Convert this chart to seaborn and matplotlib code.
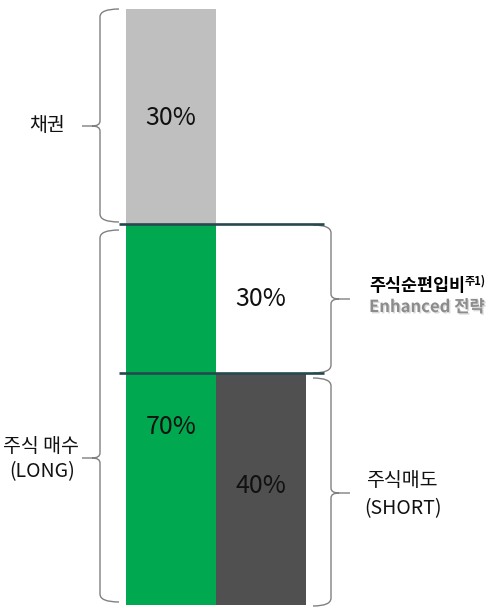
import matplotlib
matplotlib.use('Agg')
import matplotlib.pyplot as plt
import matplotlib.patheffects as pe
from matplotlib.path import Path
from matplotlib.patches import PathPatch
import seaborn as sns
import pandas as pd

# two stacked columns: left = bond + long, right = net exposure + short
bars = ['left', 'right']
lower_h = [64, 39]          # drawn heights (left column total = 100)
upper_h = [36, 25]
lower_pct = ['70%', '40%']
upper_pct = ['30%', '30%']
lower_colors = ['#00A84F', '#505050']
upper_colors = ['#BFBFBF', '#FFFFFF']

LINE = '#25494F'
BRACE = '#808080'
KR = ['Liberation Sans Narrow', 'Noto Sans CJK KR', 'DejaVu Sans']

sns.set_style('white')
plt.rcParams['font.family'] = KR

fig = plt.figure(figsize=(4.89, 6.08), dpi=100)
ax = fig.add_axes([0, 0, 1, 1])

totals = [l + u for l, u in zip(lower_h, upper_h)]
df_top = pd.DataFrame({'bar': bars, 'h': totals})
df_low = pd.DataFrame({'bar': bars, 'h': lower_h})
sns.barplot(data=df_top, x='bar', y='h', hue='bar', palette=upper_colors,
            legend=False, width=1.0, linewidth=0, saturation=1, ax=ax)
sns.barplot(data=df_low, x='bar', y='h', hue='bar', palette=lower_colors,
            legend=False, width=1.0, linewidth=0, saturation=1, ax=ax)

# pixel helpers (origin top-left of the 489x608 image)
PX_X = 90.0
PX_Y = 5.96
X0 = -0.5 - 126 / PX_X


def xp(px):
    return X0 + px / PX_X


def yp(py):
    return (605 - py) / PX_Y


ax.set_xlim(X0, X0 + 489 / PX_X)
ax.set_ylim(yp(608), yp(0))
ax.axis('off')

# dark separator lines
for y in [lower_h[0], lower_h[1]]:
    ax.plot([xp(119), xp(324)], [y, y], color=LINE, lw=1.9,
            solid_capstyle='butt', zorder=5)


def brace(x_spine, x_end, x_tip, y_top, y_bot, y_tip):
    s = 1 if x_tip > x_spine else -1
    r = 8
    k = 5
    mid = x_spine + s * 8
    pts = [
        ((x_end, y_top), Path.MOVETO),
        ((x_spine, y_top), Path.CURVE3),
        ((x_spine, y_top + r), Path.CURVE3),
        ((x_spine, y_tip - k), Path.LINETO),
        ((x_spine, y_tip), Path.CURVE3),
        ((mid, y_tip), Path.CURVE3),
        ((x_tip, y_tip), Path.LINETO),
        ((mid, y_tip), Path.MOVETO),
        ((x_spine, y_tip), Path.CURVE3),
        ((x_spine, y_tip + k), Path.CURVE3),
        ((x_spine, y_bot - r), Path.LINETO),
        ((x_spine, y_bot), Path.CURVE3),
        ((x_end, y_bot), Path.CURVE3),
    ]
    verts = [(xp(p[0]), yp(p[1])) for p, c in pts]
    codes = [c for p, c in pts]
    ax.add_patch(PathPatch(Path(verts, codes), fill=False, edgecolor=BRACE,
                           lw=1.0, zorder=4))


brace(100, 119, 82, 9, 222, 126)
brace(100, 119, 82, 230, 602, 458)
brace(331, 313, 350, 225, 373, 299)
brace(331, 313, 350, 378, 606, 493)

# percentage labels
ax.text(0, yp(118), upper_pct[0], ha='center', va='center', fontsize=18, color='#111111')
ax.text(0, yp(427), lower_pct[0], ha='center', va='center', fontsize=18, color='#111111')
ax.text(1, yp(299), upper_pct[1], ha='center', va='center', fontsize=18, color='#111111')
ax.text(1, yp(486), lower_pct[1], ha='center', va='center', fontsize=18, color='#111111')

# side labels
ax.text(xp(47), yp(126), '채권', ha='center', va='center', fontsize=14, color='#111111')
ax.text(xp(41), yp(446), '주식 매수', ha='center', va='center', fontsize=14, color='#111111')
ax.text(xp(42), yp(472), '(LONG)', ha='center', va='center', fontsize=14, color='#111111')
ax.text(xp(402), yp(481), '주식매도', ha='center', va='center', fontsize=14, color='#111111')
ax.text(xp(403), yp(509), '(SHORT)', ha='center', va='center', fontsize=14, color='#111111')

t1 = ax.text(xp(369), yp(286), '주식순편입비', ha='left', va='center',
             fontsize=12.5, fontweight='bold', color='#000000')
fig.canvas.draw()
bb = t1.get_window_extent()
x_end = ax.transData.inverted().transform((bb.x1, 0))[0]
ax.text(x_end - 0.005, yp(281), '주1)', ha='left', va='center',
        fontsize=8, fontweight='bold', color='#000000')
ax.text(xp(369), yp(307), 'Enhanced 전략', ha='left', va='center',
        fontsize=12, fontweight='bold', color='#8C8C8C',
        path_effects=[pe.withSimplePatchShadow(offset=(1, -1),
                                               shadow_rgbFace='#000000', alpha=0.15)])

fig.savefig('out.png', dpi=100)
